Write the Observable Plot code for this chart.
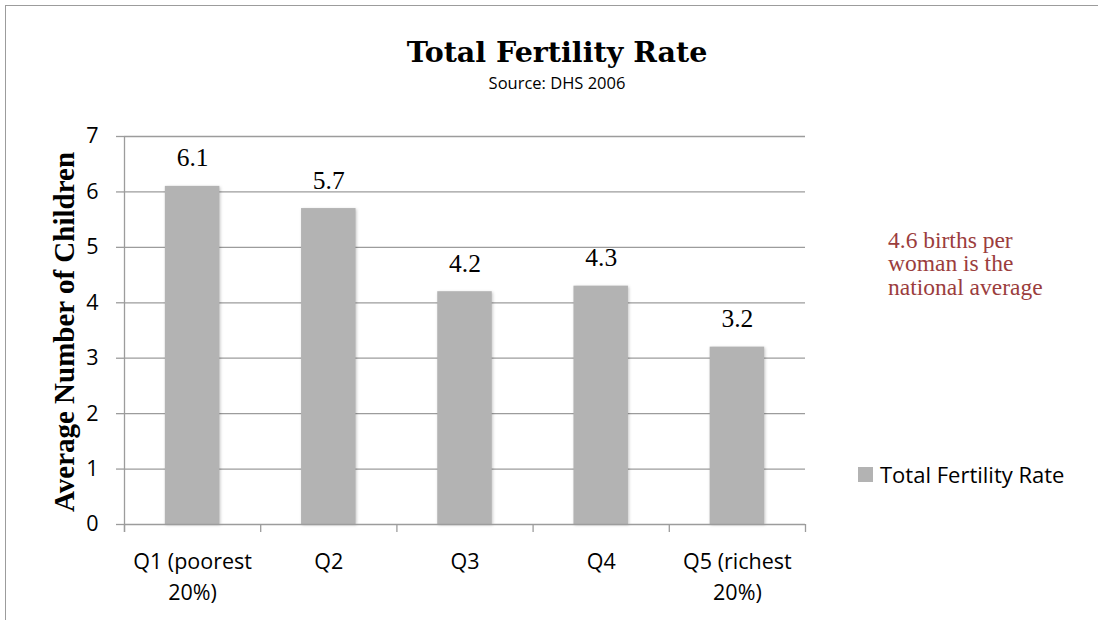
<!DOCTYPE html>
<html><head><meta charset="utf-8">
<script src="https://cdn.jsdelivr.net/npm/d3@7"></script>
<script src="https://cdn.jsdelivr.net/npm/@observablehq/plot@0.6"></script>
<style>
body{margin:0;background:#fff}
#wrap{position:relative;width:1098px;height:620px;overflow:hidden;background:#fff}
#frame{position:absolute;left:5px;top:5px;width:2000px;height:2000px;border-top:1.5px solid #9c9c9c;border-left:1.5px solid #9c9c9c;box-sizing:border-box}
#chart{position:absolute;left:0;top:0}
.t{position:absolute;white-space:nowrap}
#title{left:357px;width:400px;top:38px;text-align:center;font:bold 28.5px/29px "DejaVu Serif";color:#000}
#subtitle{left:357px;width:400px;top:74px;text-align:center;font:16.5px/17px "Open Sans";color:#000}
#ytitle{left:64px;top:332px;transform:translate(-50%,-50%) rotate(-90deg);font:bold 29px/29px "Liberation Serif";color:#000}
#note{left:888px;top:228.5px;font:23.5px/23.5px "Liberation Serif";color:#9b3d3d;white-space:normal}
#legend{left:858px;top:463px;font:22px/22px "Open Sans";color:#000;display:flex;align-items:center}
#legend .sw{width:15px;height:15px;background:#b3b3b3;margin-right:7px}
</style>
</head><body>
<div id="wrap">
  <div id="frame"></div>
  <div id="chart"></div>
  <div class="t" id="title"></div>
  <div class="t" id="subtitle"></div>
  <div class="t" id="ytitle"></div>
  <div class="t" id="note"></div>
  <div class="t" id="legend"><span class="sw"></span><span id="legtext"></span></div>
</div>
<script>
const categories = ["Q1 (poorest\n20%)", "Q2", "Q3", "Q4", "Q5 (richest\n20%)"];
const values = [6.1, 5.7, 4.2, 4.3, 3.2];
const yTicks = [0, 1, 2, 3, 4, 5, 6, 7];
const titleText = "Total Fertility Rate";
const subtitleText = "Source: DHS 2006";
const yTitleText = "Average Number of Children";
const seriesName = "Total Fertility Rate";
const noteLines = ["4.6 births per", "woman is the", "national average"];

const data = categories.map((c, i) => ({i, category: c, value: values[i]}));
const boundaries = d3.range(categories.length + 1);
const centers = categories.map((c, i) => i + 0.5);

const grid = "#9c9c9c";
const plot = Plot.plot({
  width: 1098,
  height: 620,
  marginLeft: 124,
  marginRight: 293,
  marginTop: 136,
  marginBottom: 96,
  style: {background: "transparent", color: "#000"},
  x: {type: "linear", domain: [0, categories.length], axis: null},
  y: {domain: [0, 7], axis: null},
  marks: [
    Plot.gridY(yTicks.filter(t => t > 0), {stroke: grid, strokeOpacity: 1, strokeWidth: 1.3}),
    Plot.axisY({ticks: yTicks, tickSize: 8, tickPadding: 18, tickFormat: d => String(d), fontSize: 21.5, fontFamily: "Open Sans", stroke: grid, strokeWidth: 1.3, fill: "#000", label: null}),
    Plot.rectY(data, {x1: d => d.i + 0.3, x2: d => d.i + 0.7, y: "value", fill: "#b3b3b3"}),
    Plot.ruleY([0], {stroke: grid, strokeWidth: 1.3}),
    Plot.ruleX([0], {stroke: grid, strokeWidth: 1.3, insetBottom: -8}),
    Plot.axisX({ticks: boundaries, tickSize: 8, tickFormat: () => "", stroke: grid, strokeWidth: 1.3, label: null}),
    Plot.axisX({ticks: centers, tickSize: 0, tickPadding: 23, tickFormat: t => categories[Math.floor(t)], fontSize: 21.5, fontFamily: "Open Sans", lineHeight: 1.42, fill: "#000", label: null}),
    Plot.text(data, {x: d => d.i + 0.5, y: "value", text: d => d.value.toFixed(1), dy: -20, lineAnchor: "bottom", fontSize: 25.5, fontFamily: "Liberation Serif", fill: "#000"})
  ]
});
document.getElementById("chart").appendChild(plot);
plot.querySelectorAll('g[aria-label="rect"]').forEach(g => g.style.filter = "drop-shadow(1.5px 1px 1.5px rgba(0,0,0,0.22))");

document.getElementById("title").textContent = titleText;
document.getElementById("subtitle").textContent = subtitleText;
document.getElementById("ytitle").textContent = yTitleText;
document.getElementById("note").innerHTML = noteLines.join("<br>");
document.getElementById("legtext").textContent = seriesName;
</script>
</body></html>
